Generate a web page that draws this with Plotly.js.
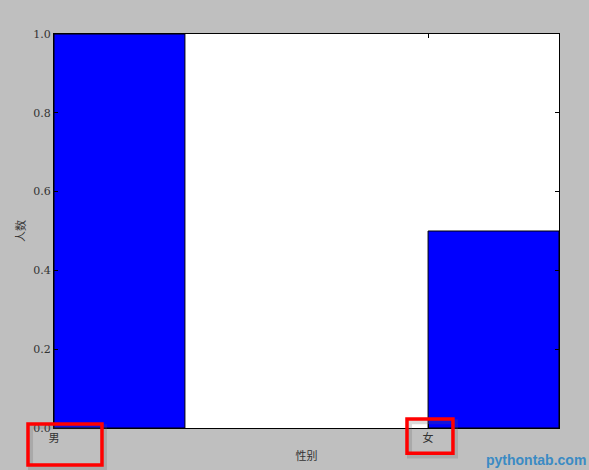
<!DOCTYPE html>
<html>
<head>
<meta charset="utf-8">
<script src="https://cdn.plot.ly/plotly-3.0.1.min.js"></script>
<style>
  html, body { margin: 0; padding: 0; background: #bfbfbf; }
  #chart { width: 589px; height: 470px; }
</style>
</head>
<body>
<div id="chart"></div>
<script>
// data
var categories = ['男', '女'];
var barLeft = [0, 1];
var counts = [1.0, 0.5];
var yTicks = [0, 0.2, 0.4, 0.6, 0.8, 1.0];
var yTickText = ['0.0', '0.2', '0.4', '0.6', '0.8', '1.0'];

var serif = '"DejaVu Serif", "Liberation Serif", serif';
var cjk = '"Noto Sans CJK SC", sans-serif';

var trace = {
    x: barLeft,
    y: counts,
    type: 'bar',
    width: 0.35,
    offset: 0,
    marker: {
        color: '#0000ff',
        line: { color: '#000', width: 1 }
    },
    hoverinfo: 'none'
};

// red highlight boxes (paper coords) with a soft shadow
function box(x0, y0, x1, y1) {
    return [
        { type: 'rect', xref: 'paper', yref: 'paper', x0: x0 + 0.005, x1: x1 + 0.005,
          y0: y0 - 0.007, y1: y1 - 0.007, line: { color: 'rgba(90,90,90,0.22)', width: 5 } },
        { type: 'rect', xref: 'paper', yref: 'paper', x0: x0, x1: x1,
          y0: y0, y1: y1, line: { color: '#ff0000', width: 3.5 } }
    ];
}

var layout = {
    width: 589,
    height: 470,
    margin: { l: 54, r: 30, t: 34, b: 42 },
    paper_bgcolor: '#bfbfbf',
    plot_bgcolor: '#ffffff',
    showlegend: false,
    bargap: 0,
    xaxis: {
        range: [0, 1.35],
        tickvals: barLeft,
        ticktext: categories,
        ticks: 'inside',
        ticklen: 4,
        tickcolor: '#000',
        mirror: 'ticks',
        showline: true,
        linecolor: '#000',
        linewidth: 1,
        showgrid: false,
        zeroline: false,
        tickfont: { family: cjk, size: 11, color: '#333' },
        title: { text: '性别', font: { family: cjk, size: 11, color: '#333' }, standoff: 8 }
    },
    yaxis: {
        range: [0, 1],
        tickvals: yTicks,
        ticktext: yTickText,
        ticks: 'inside',
        ticklen: 4,
        tickcolor: '#000',
        mirror: 'ticks',
        showline: true,
        linecolor: '#000',
        linewidth: 1,
        showgrid: false,
        zeroline: false,
        tickfont: { family: serif, size: 11, color: '#333' },
        title: { text: '人数', font: { family: cjk, size: 11, color: '#333' }, standoff: 5 }
    },
    shapes: box(-0.0515, 0.010, 0.095, -0.094).concat(box(0.699, 0.023, 0.790, -0.064)),
    annotations: [{
        text: 'pythontab.com',
        xref: 'paper', yref: 'paper',
        x: 1.058, y: -0.081,
        xanchor: 'right', yanchor: 'middle',
        showarrow: false,
        font: { family: '"Liberation Sans", Arial, sans-serif', size: 14, color: '#3a8bc4', weight: 'bold' }
    }]
};

var config = { staticPlot: true };

Plotly.newPlot('chart', [trace], layout, config);
</script>
</body>
</html>
